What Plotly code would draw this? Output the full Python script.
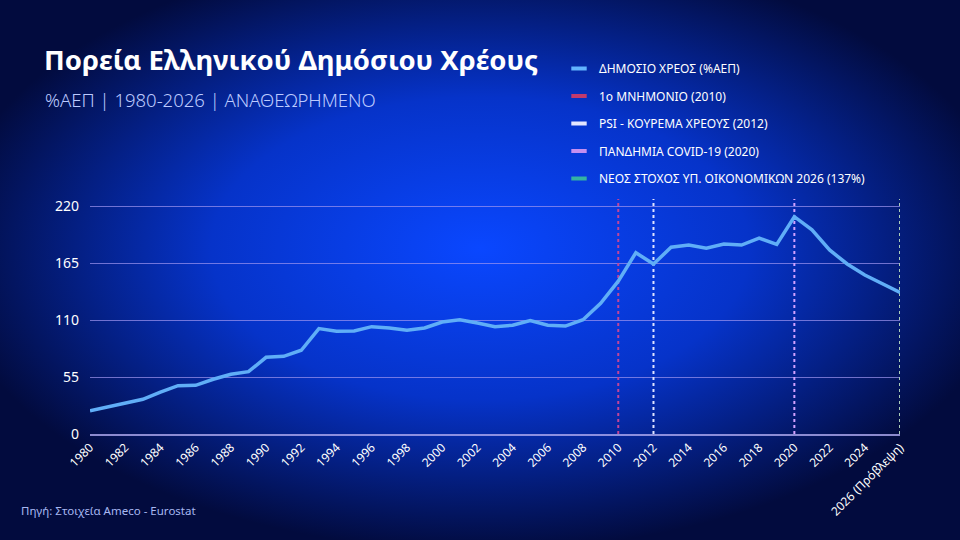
import base64
import plotly.graph_objects as go

# Δημόσιο χρέος, % ΑΕΠ (εκτίμηση από το γράφημα)
years = list(range(1980, 2027))
debt = [22.5, 26.3, 29.3, 33.5, 40.5, 46.6, 47.0, 52.8, 57.6, 60.2,
        74.0, 75.0, 80.8, 101.7, 99.1, 99.4, 103.6, 102.3, 100.1, 102.3,
        108.1, 110.3, 107.1, 103.6, 105.0, 109.5, 105.0, 104.2, 110.3, 126.2,
        147.5, 175.0, 164.0, 180.2, 182.4, 179.2, 183.4, 182.4, 189.0, 182.9,
        209.7, 197.0, 177.6, 164.1, 153.4, 145.4, 136.6]

event_years = [2010, 2012, 2020, 2026]
event_names = ["1ο ΜΝΗΜΟΝΙΟ (2010)", "PSI - ΚΟΥΡΕΜΑ ΧΡΕΟΥΣ (2012)",
               "ΠΑΝΔΗΜΙΑ COVID-19 (2020)", "ΝΕΟΣ ΣΤΟΧΟΣ ΥΠ. ΟΙΚΟΝΟΜΙΚΩΝ 2026 (137%)"]
event_line_colors = ["#c2449a", "#dfe3ff", "#d3a2ff", "#a9cbb8"]
event_legend_colors = ["#c23a6c", "#e4e6ff", "#c58ff0", "#34b3a2"]

tick_years = list(range(1980, 2027, 2))
tick_text = [str(y) for y in tick_years[:-1]] + ["2026 (Πρόβλεψη)"]

y_ticks = [0, 55, 110, 165, 220]
y_top = 226.8

# plot area in pixels: x 90..900, y 199..434
L, R, T, B = 90, 900, 199, 434
W, H = R - L, B - T


def px(x):
    return (x - L) / W


def py(y):
    return (B - y) / H


svg = ("<svg xmlns='http://www.w3.org/2000/svg' width='960' height='540'>"
       "<defs><radialGradient id='g' cx='0.5' cy='0.46' r='0.56'>"
       "<stop offset='0' stop-color='#0a47ff'/>"
       "<stop offset='0.5' stop-color='#0633c9'/>"
       "<stop offset='1' stop-color='#020b3e'/>"
       "</radialGradient></defs>"
       "<rect width='960' height='540' fill='url(#g)'/></svg>")
bg_src = "data:image/svg+xml;base64," + base64.b64encode(svg.encode()).decode()

fig = go.Figure()

legend_font = dict(family="Noto Sans", size=12, color="white")

# vertical event lines
for yr, name, lc, gc in zip(event_years, event_names, event_line_colors, event_legend_colors):
    fig.add_trace(go.Scatter(
        x=[yr, yr], y=[0, y_top], mode="lines",
        line=dict(color=lc, width=2, dash="dot"),
        showlegend=False, hoverinfo="skip",
    ))

# main debt line
fig.add_trace(go.Scatter(
    x=years, y=debt, mode="lines", name="ΔΗΜΟΣΙΟ ΧΡΕΟΣ (%ΑΕΠ)",
    line=dict(color="#60aef7", width=3.5), showlegend=False,
))

# legend entries (short dashes like the original)
legend_items = [("ΔΗΜΟΣΙΟ ΧΡΕΟΣ (%ΑΕΠ)", "#62b4ff")] + list(zip(event_names, event_legend_colors))
for i, (name, c) in enumerate(legend_items):
    fig.add_trace(go.Scatter(
        x=[None], y=[None], mode="markers", name=name, legendgroup=str(i),
        marker=dict(symbol="line-ew", size=11, color=c, line=dict(color=c, width=4)),
    ))

fig.update_layout(
    width=960, height=540,
    margin=dict(l=L, r=960 - R, t=T, b=540 - B),
    paper_bgcolor="#03104f", plot_bgcolor="rgba(0,0,0,0)",
    font=dict(family="Noto Sans", color="white"),
    images=[dict(source=bg_src, xref="paper", yref="paper",
                 x=px(0), y=py(0), sizex=960 / W, sizey=540 / H,
                 sizing="stretch", layer="below", xanchor="left", yanchor="top")],
    title=dict(text="<b>Πορεία Ελληνικού Δημόσιου Χρέους</b>",
               xref="container", yref="container", x=44 / 960, y=1 - 60 / 540,
               xanchor="left", yanchor="middle",
               font=dict(family="Noto Sans", size=27.5, color="white")),
    legend=dict(x=px(559), y=py(54), xanchor="left", yanchor="top",
                traceorder="grouped", tracegroupgap=8.5, itemwidth=30,
                bgcolor="rgba(0,0,0,0)", font=legend_font),
    showlegend=True,
    xaxis=dict(range=[1980, 2026], tickvals=tick_years, ticktext=tick_text,
               tickangle=-45, tickfont=dict(size=12, color="white"),
               showgrid=False, zeroline=False, showline=True,
               linecolor="rgba(175,170,240,0.8)", linewidth=1.5, ticks=""),
    yaxis=dict(range=[0, y_top], tickvals=y_ticks, tickfont=dict(size=14, color="white"),
               showgrid=True, gridcolor="rgba(160,150,240,0.7)", gridwidth=1,
               zeroline=False, ticklabelstandoff=10, ticks=""),
    annotations=[
        dict(text="%ΑΕΠ | 1980-2026 | ΑΝΑΘΕΩΡΗΜΕΝΟ", xref="paper", yref="paper",
             x=px(43), y=py(100), xanchor="left", yanchor="middle", showarrow=False,
             font=dict(family="Noto Sans", size=18.5, color="#bccaff", weight=300)),
        dict(text="Πηγή: Στοιχεία Ameco - Eurostat", xref="paper", yref="paper",
             x=px(19), y=py(510), xanchor="left", yanchor="middle", showarrow=False,
             font=dict(family="Noto Sans", size=11.5, color="#a7b8f2")),
    ],
)

fig.write_html("out.html", config={"displayModeBar": False},
               post_script="document.body.style.margin='0';"
                           "document.body.style.background='#020b3e';")
